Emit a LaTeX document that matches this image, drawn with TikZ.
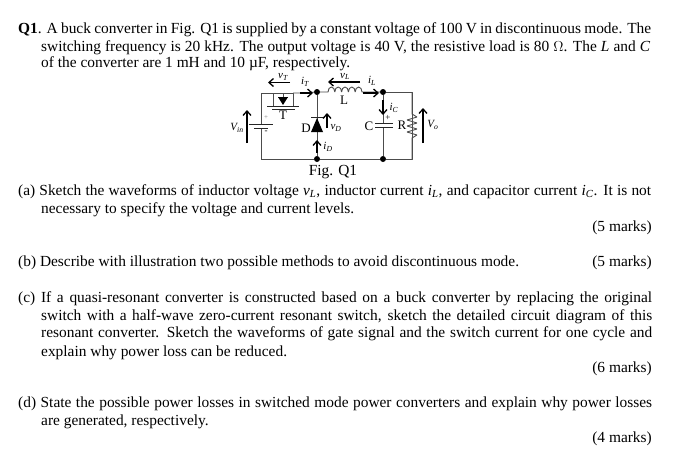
\documentclass[tikz,border=0pt]{standalone}
\usepackage{fontspec}
\usetikzlibrary{arrows.meta}
\setmainfont{Liberation Serif}
\newcommand{\fullline}[2]{\makebox[#1pt][s]{#2}}
\begin{document}
\begin{tikzpicture}[x=1pt,y=-1pt,>={Straight Barb[length=4.5pt,width=8pt]},line join=bevel,
  txt/.style={anchor=base west,inner sep=0pt,font=\fontsize{15.4}{17}\selectfont},
  marks/.style={anchor=base east,inner sep=0pt,font=\fontsize{15.4}{17}\selectfont},
  caplbl/.style={inner sep=0pt,font=\fontsize{15.4}{17}\selectfont},
  part/.style={inner sep=0pt,font=\fontsize{13}{14}\selectfont},
  sym/.style={inner sep=0pt,font=\fontsize{11}{12}\selectfont\itshape},
  wire/.style={draw=black!70,line width=.9pt},
  plate/.style={draw=black!85,line width=1pt},
  flow/.style={black,line width=1.3pt,->},
  dotnode/.style={circle,fill=black,inner sep=0pt,minimum size=6pt}]
\useasboundingbox (0,0) rectangle (692,467);
\fill[white] (0,0) rectangle (692,467);
% Question text
\node[txt] (q1a) at (18,33) {\fullline{633}{\textbf{Q1}. A buck converter in Fig. Q1 is supplied by a constant voltage of 100 V in discontinuous mode. The}};
\node[txt] (q1b) at (41,51) {\fullline{609}{switching frequency is 20 kHz. The output voltage is 40 V, the resistive load is 80 $\Omega$. The \textit{L} and \textit{C}}};
\node[txt] (q1c) at (41,67.5) {of the converter are 1 mH and 10 µF, respectively.};
\node[caplbl] (figcap) at (333,172) {Fig. Q1};
\node[txt] (aa) at (18,195) {\fullline{633}{(a) Sketch the waveforms of inductor voltage \textit{v\textsubscript{L}}, inductor current \textit{i\textsubscript{L}}, and capacitor current \textit{i\textsubscript{C}}. It is not}};
\node[txt] (ab) at (41,213) {necessary to specify the voltage and current levels.};
\node[marks] (am) at (652,231) {(5 marks)};
\node[txt] (ba) at (18,266) {(b) Describe with illustration two possible methods to avoid discontinuous mode.};
\node[marks] (bm) at (652,266) {(5 marks)};
\node[txt] (ca) at (18,302) {\fullline{634}{(c) If a quasi-resonant converter is constructed based on a buck converter by replacing the original}};
\node[txt] (cb) at (41,320) {\fullline{611}{switch with a half-wave zero-current resonant switch, sketch the detailed circuit diagram of this}};
\node[txt] (cc) at (41,337) {\fullline{611}{resonant converter. Sketch the waveforms of gate signal and the switch current for one cycle and}};
\node[txt] (cd) at (41,356) {explain why power loss can be reduced.};
\node[marks] (cm) at (652,372) {(6 marks)};
\node[txt] (da) at (18,407) {\fullline{634}{(d) State the possible power losses in switched mode power converters and explain why power losses}};
\node[txt] (db) at (41,425) {are generated, respectively.};
\node[marks] (dm) at (652,442) {(4 marks)};
% Junctions
\node[dotnode] (ja) at (317,92) {};
\node[dotnode] (jb) at (383,92) {};
\node[dotnode] (jc) at (317,159) {};
\node[dotnode] (jd) at (383,159) {};
\coordinate (tl) at (261,93);
\coordinate (tr) at (412,92);
\coordinate (bl) at (261,159);
\coordinate (br) at (412,159);
% Battery
\draw[wire] (tl) -- (261,124);
\draw[wire] (261,128) -- (bl);
\draw[wire] (bl) -- (jc) -- (jd) -- (br) -- (tr) -- (jb);
\draw[plate] (249,124) -- (273,124);
\draw[plate] (254,128) -- (268,128);
\node[inner sep=0pt,font=\fontsize{7}{8}\selectfont,black!50] (batp) at (266,118) {+};
\node[inner sep=0pt,font=\fontsize{9}{10}\selectfont] (batm) at (266,132) {-};
% Switch T
\draw[wire] (tl) -- (273,93) -- (273,106);
\draw[wire] (273,93) -- (293,93) -- (293,106);
\draw[wire] (293,93) -- (300,93) -- (ja);
\draw[plate] (267,106) -- (299,106);
\draw[plate] (272,109) -- (295,109);
\draw[wire] (283,93) -- (283,97);
\draw[plate] (278,97) -- (288,97);
\fill (278,97) -- (288,97) -- (283,105) -- cycle;
\node[part] (tlbl) at (283,115) {T};
% Diode D
\draw[wire] (ja) -- (jc);
\fill (317,118) -- (323,132) -- (311,132) -- cycle;
\draw[plate] (311,117.5) -- (323,117.5);
\node[part] (dlbl) at (306,128) {D};
% Inductor
\draw[wire] (ja) -- (328,92) arc (180:360:3.4 and 5) arc (180:360:3.4 and 5) arc (180:360:3.4 and 5) arc (180:360:3.4 and 5) arc (180:360:3.4 and 5) -- (jb);
\node[part] (llbl) at (344,100) {L};
% Capacitor
\draw[wire] (jb) -- (383,123);
\draw[wire] (383,127) -- (jd);
\draw[plate] (375,123) -- (393,123);
\draw[plate] (375,127) -- (393,127);
\node[inner sep=0pt,font=\fontsize{9}{10}\selectfont] (cpls) at (388,118) {+};
\node[part] (clbl) at (369,126) {C};
% Resistor
\draw[wire] (tr) -- (412,114) -- (417,117) -- (407,120) -- (417,123) -- (407,126) -- (417,129) -- (407,132) -- (417,135) -- (412,138) -- (br);
\node[part] (rlbl) at (402,125) {R};
% Voltage and current arrows
\coordinate (vtr) at (290,82.5);
\coordinate (vtl) at (268,82.5);
\draw[flow] (vtr) -- (vtl);
\node[sym] (vt) at (283,77) {v\textsubscript{T}};
\node[sym] (it) at (305,82) {i\textsubscript{T}};
\draw[flow] (300,93) -- (313,93);
\coordinate (vlr) at (360,82);
\coordinate (vll) at (328,82);
\draw[flow] (vlr) -- (vll);
\node[sym] (vl) at (345,76.5) {v\textsubscript{L}};
\node[sym] (il) at (372,81) {i\textsubscript{L}};
\draw[flow] (363,93) -- (379,93);
\draw[flow] (383,100) -- (383,115);
\node[sym] (ic) at (394,108) {i\textsubscript{C}};
\coordinate (vdb) at (327,128);
\coordinate (vdt) at (327,113);
\draw[flow] (vdb) -- (vdt);
\node[sym] (vd) at (336,128) {v\textsubscript{D}};
\draw[flow] (317,153) -- (317,140);
\node[sym] (id) at (328,147) {i\textsubscript{D}};
\coordinate (vinb) at (247,143);
\coordinate (vint) at (247,110);
\draw[flow] (vinb) -- (vint);
\node[sym] (vin) at (237,128) {V\textsubscript{in}};
\coordinate (vob) at (423,143);
\coordinate (vot) at (423,108);
\draw[flow] (vob) -- (vot);
\node[sym] (vo) at (433,125) {V\textsubscript{o}};
\end{tikzpicture}
\end{document}
